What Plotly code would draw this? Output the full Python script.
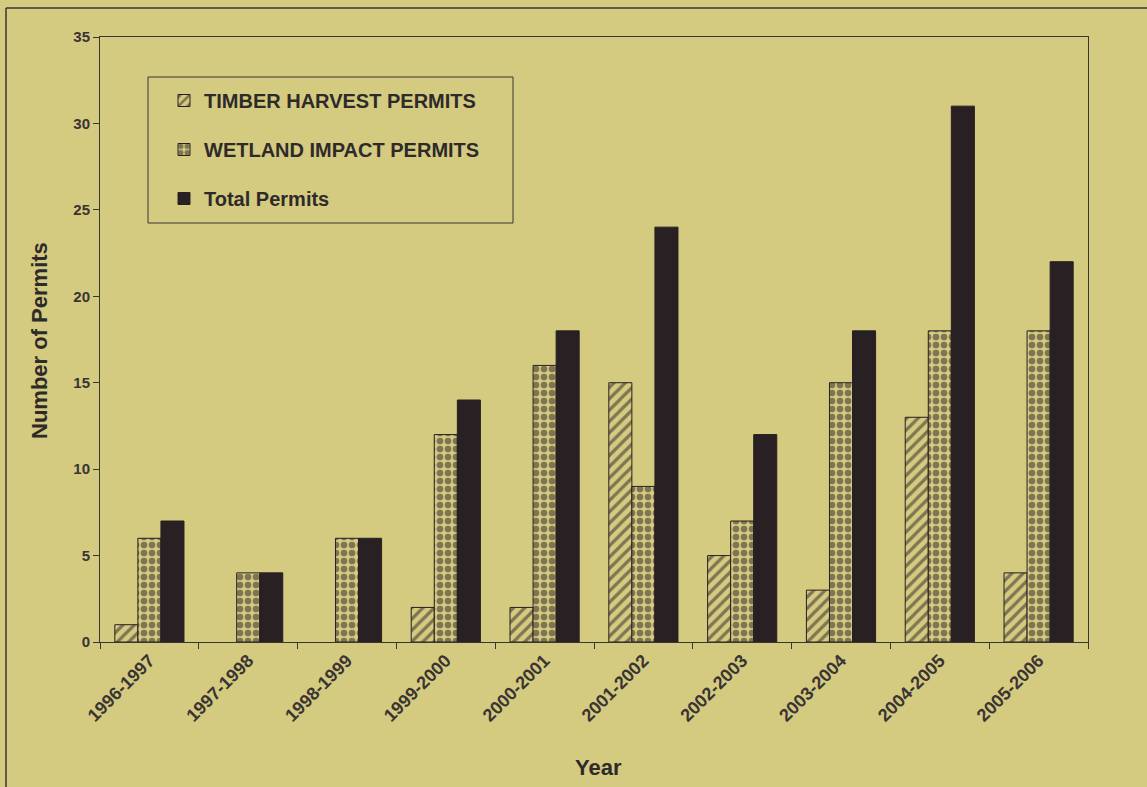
import plotly.graph_objects as go

years = ["1996-1997", "1997-1998", "1998-1999", "1999-2000", "2000-2001",
         "2001-2002", "2002-2003", "2003-2004", "2004-2005", "2005-2006"]
timber = [1, 0, 0, 2, 2, 15, 5, 3, 13, 4]
wetland = [6, 4, 6, 12, 16, 9, 7, 15, 18, 18]
total = [7, 4, 6, 14, 18, 24, 12, 18, 31, 22]
y_ticks = [0, 5, 10, 15, 20, 25, 30, 35]

BG = "#d4ca80"
DARK = "#282023"
LINE = "#3a3434"
FONT = "Liberation Sans, Arial, sans-serif"


def outline(vals):
    return [1 if v else 0 for v in vals]


fig = go.Figure()
fig.add_trace(go.Bar(
    x=years, y=timber, name="TIMBER HARVEST PERMITS", legendgroup="a",
    marker=dict(color=BG, line=dict(color=DARK, width=outline(timber)),
                pattern=dict(shape="/", fgcolor=DARK, bgcolor=BG, size=8, solidity=0.4)),
))
fig.add_trace(go.Bar(
    x=years, y=wetland, name="WETLAND IMPACT PERMITS", legendgroup="b",
    marker=dict(color=BG, line=dict(color=DARK, width=outline(wetland)),
                pattern=dict(shape=".", fgcolor=DARK, bgcolor=BG, size=8, solidity=0.55)),
))
fig.add_trace(go.Bar(
    x=years, y=total, name="Total Permits", legendgroup="c",
    marker=dict(color=DARK, line=dict(color=DARK, width=outline(total))),
))

L, R, T, B = 100, 59, 37, 145
W, H = 1147, 787
pw, ph = W - L - R, H - T - B


def px(x):
    return (x - L) / pw


def py(y):
    return 1 - (y - T) / ph


title_font = dict(family=FONT, size=22, color="#2e2a2a", weight="bold")

fig.update_layout(
    width=W, height=H,
    margin=dict(l=L, r=R, t=T, b=B),
    paper_bgcolor=BG, plot_bgcolor=BG,
    barmode="group", bargap=0.3, bargroupgap=0,
    font=dict(family=FONT, color="#2e2a2a"),
    showlegend=True,
    legend=dict(
        x=px(164), y=py(81), xanchor="left", yanchor="top",
        bgcolor="rgba(0,0,0,0)", borderwidth=0,
        font=dict(family=FONT, size=20, color="#2e2a2a", weight="bold"),
        tracegroupgap=20, itemwidth=30,
    ),
    xaxis=dict(
        showline=True, linecolor=LINE, linewidth=1, mirror=True,
        ticks="outside", ticklen=6, tickcolor=LINE, tickson="boundaries",
        tickangle=-45, showgrid=False,
        tickfont=dict(family=FONT, size=18, color="#3a3434", weight="bold"),
    ),
    yaxis=dict(
        range=[0, 35], tickvals=y_ticks,
        showline=True, linecolor=LINE, linewidth=1, mirror=True,
        ticks="outside", ticklen=6, tickcolor=LINE, showgrid=False, zeroline=False,
        tickfont=dict(family=FONT, size=15, color="#3a3434", weight="bold"),
    ),
    annotations=[
        dict(text="Year", xref="paper", yref="paper", x=px(598), y=py(767),
             xanchor="center", yanchor="middle", showarrow=False, font=title_font),
        dict(text="Number of Permits", xref="paper", yref="paper", x=px(39), y=py(341),
             xanchor="center", yanchor="middle", showarrow=False, textangle=-90, font=title_font),
    ],
    shapes=[
        dict(type="rect", xref="paper", yref="paper",
             x0=px(148), x1=px(513), y0=py(77), y1=py(223),
             line=dict(color=LINE, width=1)),
        dict(type="line", xref="paper", yref="paper",
             x0=px(6), x1=px(6), y0=py(8), y1=py(H + 10),
             line=dict(color=LINE, width=1.5)),
        dict(type="line", xref="paper", yref="paper",
             x0=px(6), x1=px(W + 10), y0=py(8), y1=py(8),
             line=dict(color=LINE, width=1.5)),
    ],
)

fig.write_html("out.html")
